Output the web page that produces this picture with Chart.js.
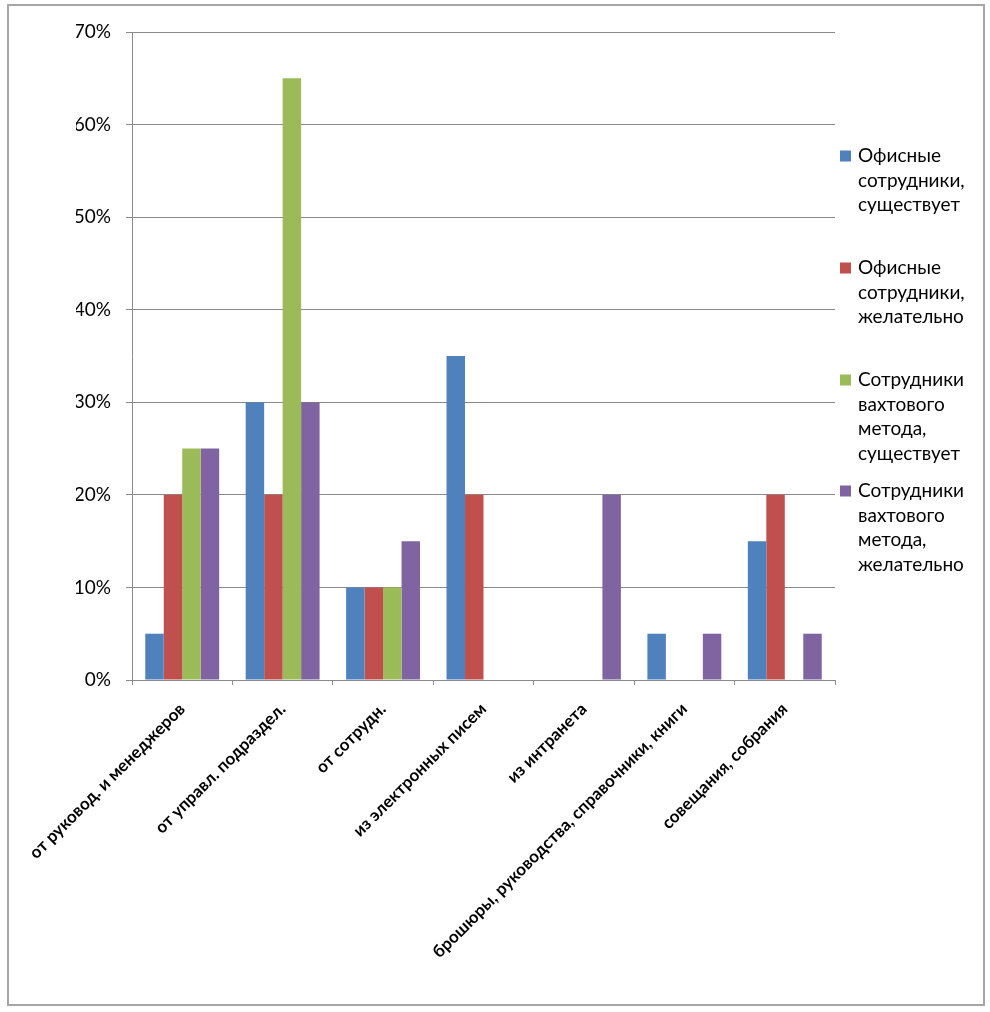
<!DOCTYPE html>
<html>
<head>
<meta charset="utf-8">
<script src="https://cdn.jsdelivr.net/npm/chart.js@4.4.1/dist/chart.umd.min.js"></script>
<style>
  html, body { margin: 0; padding: 0; background: #fff; }
  #wrap { width: 990px; height: 1012px; }
</style>
</head>
<body>
<div id="wrap"><canvas id="myChart" width="990" height="1012"></canvas></div>
<script>
// data
const categories = [
  'от руковод. и менеджеров',
  'от управл. подраздел.',
  'от сотрудн.',
  'из электронных писем',
  'из интранета',
  'брошюры, руководства, справочники, книги',
  'совещания, собрания'
];
const officeNow  = [5, 30, 10, 35, 0, 5, 15];
const officeWish = [20, 20, 10, 20, 0, 0, 20];
const shiftNow   = [25, 65, 10, 0, 0, 0, 0];
const shiftWish  = [25, 30, 15, 0, 20, 5, 5];

const seriesNames = [
  ['Офисные', 'сотрудники,', 'существует'],
  ['Офисные', 'сотрудники,', 'желательно'],
  ['Сотрудники', 'вахтового', 'метода,', 'существует'],
  ['Сотрудники', 'вахтового', 'метода,', 'желательно']
];
const seriesColors = ['#4F81BD', '#C0504D', '#9BBB59', '#8064A2'];
const yTicks = [0, 10, 20, 30, 40, 50, 60, 70];

const FONT = 'Lato, "Noto Sans", sans-serif';
const gridColor = '#8a8a8a';

// outer frame like the Excel chart object
const frame = {
  id: 'frame',
  beforeDraw(chart) {
    const {ctx} = chart;
    ctx.save();
    ctx.strokeStyle = '#a6a6a6';
    ctx.lineWidth = 2;
    ctx.strokeRect(8, 5, 976, 1000);
    ctx.restore();
  }
};

// legend with wrapped text, placed to the right of the plot
const sideLegend = {
  id: 'sideLegend',
  afterDraw(chart, args, opts) {
    const {ctx, chartArea} = chart;
    ctx.save();
    ctx.font = opts.fontSize + 'px ' + FONT;
    ctx.textBaseline = 'middle';
    chart.data.datasets.forEach((ds, i) => {
      const x = chartArea.right + opts.offsetX;
      const y = opts.tops[i];
      ctx.fillStyle = ds.backgroundColor;
      ctx.fillRect(x, y - opts.box / 2, opts.box, opts.box);
      ctx.fillStyle = '#000';
      ds.label.forEach((line, j) => {
        ctx.fillText(line, x + opts.box + 7, y + j * opts.lineHeight);
      });
    });
    ctx.restore();
  }
};

const data = {
  labels: categories,
  datasets: [officeNow, officeWish, shiftNow, shiftWish].map((vals, i) => ({
    label: seriesNames[i],
    data: vals,
    backgroundColor: seriesColors[i],
    borderWidth: 0,
    categoryPercentage: 0.736,
    barPercentage: 1.0
  }))
};

const config = {
  type: 'bar',
  data,
  options: {
    responsive: false,
    animation: false,
    layout: { padding: { left: 76, right: 155, top: 32, bottom: 0 } },
    plugins: {
      legend: { display: false },
      tooltip: { enabled: false },
      sideLegend: { offsetX: 5, tops: [156, 268, 380, 491], box: 11, lineHeight: 24.5, fontSize: 19 }
    },
    scales: {
      y: {
        min: 0,
        max: 70,
        afterBuildTicks(scale) { scale.ticks = yTicks.map(v => ({value: v})); },
        afterFit(scale) { scale.width = 56; },
        ticks: {
          padding: 15,
          color: '#000',
          font: { family: FONT, size: 19 },
          callback: v => v + '%'
        },
        grid: { color: gridColor, tickLength: 6, lineWidth: 1 },
        border: { color: gridColor, width: 1 }
      },
      x: {
        afterFit(scale) { scale.height = 332; },
        ticks: {
          minRotation: 45,
          maxRotation: 45,
          autoSkip: false,
          padding: 14,
          color: '#000',
          font: { family: FONT, size: 17, weight: 'bold' }
        },
        grid: { drawOnChartArea: false, color: gridColor, tickLength: 5 },
        border: { color: gridColor, width: 1 }
      }
    }
  },
  plugins: [frame, sideLegend]
};

const myChart = new Chart(document.getElementById('myChart'), config);
</script>
</body>
</html>
